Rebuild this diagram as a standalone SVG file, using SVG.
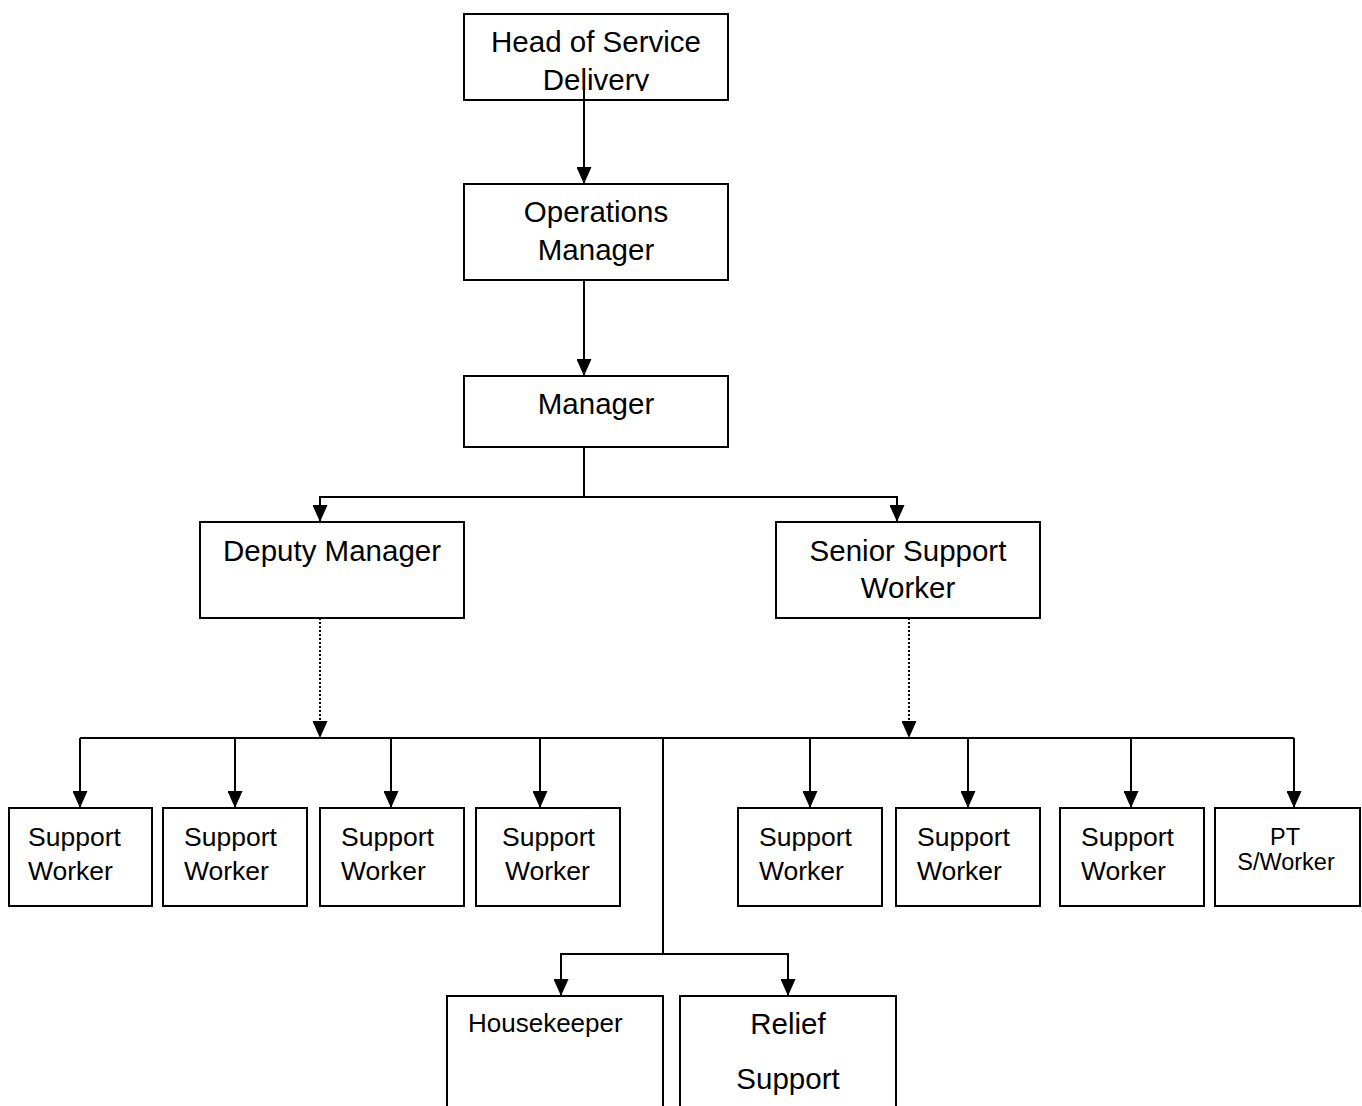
<svg xmlns="http://www.w3.org/2000/svg" width="1362" height="1106" viewBox="0 0 1362 1106">
<style>
.box{fill:#fff;stroke:#000;stroke-width:2}
.t{font-family:"Liberation Sans",Arial,sans-serif;fill:#000}
.l{font-size:29.5px;text-anchor:middle}
.m{font-size:26.5px}
.c{stroke:#000;stroke-width:2;fill:none}
.d{stroke:#000;stroke-width:2;fill:none;stroke-dasharray:2 2}
</style>
<defs>
<marker id="ar" markerUnits="userSpaceOnUse" markerWidth="17" markerHeight="15" refX="17" refY="7.5" orient="auto" viewBox="0 0 17 15">
<path d="M0,0 L17,7.5 L0,15 Z" fill="#000"/>
</marker>
<clipPath id="hc"><rect x="464" y="14" width="264" height="77"/></clipPath>
</defs>
<g id="connectors">
<line class="c" x1="584" y1="80" x2="584" y2="184" marker-end="url(#ar)"/>
<line class="c" x1="584" y1="280" x2="584" y2="376" marker-end="url(#ar)"/>
<line class="c" x1="584" y1="447" x2="584" y2="497"/>
<polyline class="c" points="584,497 320,497 320,522" marker-end="url(#ar)"/>
<polyline class="c" points="584,497 897,497 897,522" marker-end="url(#ar)"/>
<line class="d" x1="320" y1="618" x2="320" y2="738" marker-end="url(#ar)"/>
<line class="d" x1="909" y1="618" x2="909" y2="738" marker-end="url(#ar)"/>
<line class="c" x1="80" y1="738" x2="1294" y2="738"/>
<line class="c" x1="80" y1="738" x2="80" y2="808" marker-end="url(#ar)"/>
<line class="c" x1="235" y1="738" x2="235" y2="808" marker-end="url(#ar)"/>
<line class="c" x1="391" y1="738" x2="391" y2="808" marker-end="url(#ar)"/>
<line class="c" x1="540" y1="738" x2="540" y2="808" marker-end="url(#ar)"/>
<line class="c" x1="810" y1="738" x2="810" y2="808" marker-end="url(#ar)"/>
<line class="c" x1="968" y1="738" x2="968" y2="808" marker-end="url(#ar)"/>
<line class="c" x1="1131" y1="738" x2="1131" y2="808" marker-end="url(#ar)"/>
<line class="c" x1="1294" y1="738" x2="1294" y2="808" marker-end="url(#ar)"/>
<line class="c" x1="663" y1="738" x2="663" y2="954"/>
<polyline class="c" points="663,954 561,954 561,996" marker-end="url(#ar)"/>
<polyline class="c" points="663,954 788,954 788,996" marker-end="url(#ar)"/>
</g>
<g id="head">
<rect class="box" x="464" y="14" width="264" height="86" fill-opacity="0"/>
<g clip-path="url(#hc)">
<text class="t l" x="596" y="52">Head of Service</text>
<text class="t l" x="596" y="90">Delivery</text>
</g>
</g>
<g id="ops">
<rect class="box" x="464" y="184" width="264" height="96"/>
<text class="t l" x="596" y="222">Operations</text>
<text class="t l" x="596" y="260">Manager</text>
</g>
<g id="manager">
<rect class="box" x="464" y="376" width="264" height="71"/>
<text class="t l" x="596" y="414">Manager</text>
</g>
<g id="deputy">
<rect class="box" x="200" y="522" width="264" height="96"/>
<text class="t l" x="332" y="561">Deputy Manager</text>
</g>
<g id="senior">
<rect class="box" x="776" y="522" width="264" height="96"/>
<text class="t l" x="908" y="561">Senior Support</text>
<text class="t l" x="908" y="598">Worker</text>
</g>
<g id="sw1"><rect class="box" x="9" y="808" width="143" height="98"/><text class="t m" x="28" y="846">Support</text><text class="t m" x="28" y="880">Worker</text></g>
<g id="sw2"><rect class="box" x="163" y="808" width="144" height="98"/><text class="t m" x="184" y="846">Support</text><text class="t m" x="184" y="880">Worker</text></g>
<g id="sw3"><rect class="box" x="320" y="808" width="144" height="98"/><text class="t m" x="341" y="846">Support</text><text class="t m" x="341" y="880">Worker</text></g>
<g id="sw4"><rect class="box" x="476" y="808" width="144" height="98"/><text class="t m" x="502" y="846">Support</text><text class="t m" x="505" y="880">Worker</text></g>
<g id="sw5"><rect class="box" x="738" y="808" width="144" height="98"/><text class="t m" x="759" y="846">Support</text><text class="t m" x="759" y="880">Worker</text></g>
<g id="sw6"><rect class="box" x="896" y="808" width="144" height="98"/><text class="t m" x="917" y="846">Support</text><text class="t m" x="917" y="880">Worker</text></g>
<g id="sw7"><rect class="box" x="1060" y="808" width="144" height="98"/><text class="t m" x="1081" y="846">Support</text><text class="t m" x="1081" y="880">Worker</text></g>
<g id="pt"><rect class="box" x="1215" y="808" width="145" height="98"/><text class="t" x="1285" y="845" font-size="23.5" text-anchor="middle">PT</text><text class="t" x="1286" y="870" font-size="23.5" text-anchor="middle">S/Worker</text></g>
<g id="housekeeper"><rect class="box" x="447" y="996" width="216" height="120"/><text class="t" x="468" y="1032" font-size="26">Housekeeper</text></g>
<g id="relief"><rect class="box" x="680" y="996" width="216" height="120"/><text class="t l" x="788" y="1034" font-size="27">Relief</text><text class="t l" x="788" y="1089" font-size="27">Support</text></g>
</svg>
